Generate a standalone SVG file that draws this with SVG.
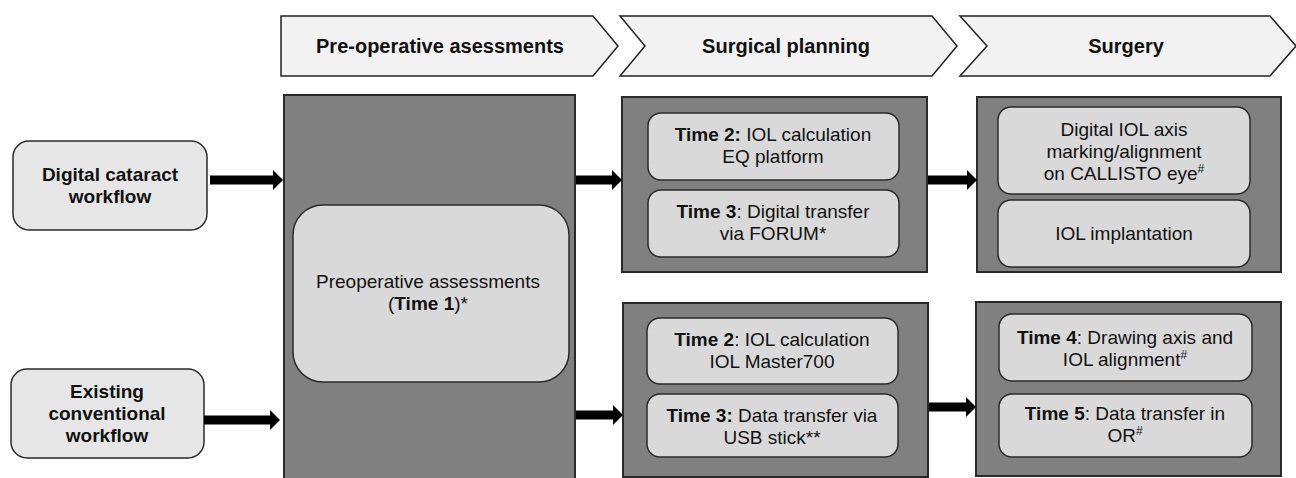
<svg xmlns="http://www.w3.org/2000/svg" width="1296" height="478" viewBox="0 0 1296 478">
<defs>
<style>
text{font-family:"Liberation Sans",Arial,sans-serif;font-size:19px;fill:#111;text-anchor:middle}
.b{font-weight:bold}
.hd{font-weight:bold;font-size:20px}
.chev{fill:#f2f2f2;stroke:#222;stroke-width:1.5}
.outer{fill:#808080;stroke:#2a2a2a;stroke-width:2}
.inner{fill:#d9d9d9;stroke:#2a2a2a;stroke-width:1.5}
.side{fill:#e6e6e6;stroke:#2a2a2a;stroke-width:1.5}
.arr{stroke:#000;stroke-width:9;fill:none}
.sup{font-size:12px}
</style>
<marker id="ah" markerUnits="userSpaceOnUse" markerWidth="10" markerHeight="20" refX="0" refY="10" orient="auto" overflow="visible">
<path d="M0,0 L10,10 L0,20 Z" fill="#000"/>
</marker>
</defs>
<rect width="1296" height="478" fill="#fff"/>

<g id="header-preop">
<path class="chev" d="M281,16 H593 L618,46 L593,76 H281 Z"/>
<text class="hd" x="440" y="53">Pre-operative asessments</text>
</g>
<g id="header-planning">
<path class="chev" d="M620,16 H932 L957,46 L932,76 H620 L645,46 Z"/>
<text class="hd" x="786" y="53">Surgical planning</text>
</g>
<g id="header-surgery">
<path class="chev" d="M960,16 H1270 L1296,46 L1270,76 H960 L987,46 Z"/>
<text class="hd" x="1126" y="53">Surgery</text>
</g>

<g id="digital-workflow">
<rect class="side" x="13" y="141" width="194" height="89" rx="16"/>
<text class="b" x="110" y="181">Digital cataract</text>
<text class="b" x="110" y="203">workflow</text>
</g>
<g id="conventional-workflow">
<rect class="side" x="11" y="369" width="193" height="89" rx="16"/>
<text class="b" x="107" y="398">Existing</text>
<text class="b" x="107" y="420">conventional</text>
<text class="b" x="107" y="442">workflow</text>
</g>

<g id="preop">
<rect class="outer" x="284" y="95" width="291" height="390"/>
<rect class="inner" x="293" y="205" width="276" height="177" rx="30"/>
<text x="428" y="288">Preoperative assessments</text>
<text x="428" y="310">(<tspan class="b">Time 1</tspan>)*</text>
</g>

<g id="planning-digital">
<rect class="outer" x="622" y="97" width="305" height="175"/>
<rect class="inner" x="648" y="113" width="251" height="67" rx="13"/>
<text x="773" y="141"><tspan class="b">Time 2:</tspan> IOL calculation</text>
<text x="773" y="163">EQ platform</text>
<rect class="inner" x="648" y="190" width="251" height="67" rx="13"/>
<text x="773" y="218"><tspan class="b">Time 3</tspan>: Digital transfer</text>
<text x="773" y="240">via FORUM*</text>
</g>

<g id="planning-conventional">
<rect class="outer" x="623" y="303" width="305" height="174"/>
<rect class="inner" x="647" y="318" width="251" height="66" rx="13"/>
<text x="772" y="346"><tspan class="b">Time 2</tspan>: IOL calculation</text>
<text x="772" y="368">IOL Master700</text>
<rect class="inner" x="647" y="394" width="251" height="63" rx="13"/>
<text x="772" y="422"><tspan class="b">Time 3:</tspan> Data transfer via</text>
<text x="772" y="444">USB stick**</text>
</g>

<g id="surgery-digital">
<rect class="outer" x="977" y="97" width="304" height="175"/>
<rect class="inner" x="998" y="107" width="252" height="87" rx="13"/>
<text x="1124" y="136">Digital IOL axis</text>
<text x="1124" y="158">marking/alignment</text>
<text x="1124" y="180">on CALLISTO eye<tspan class="sup" dy="-7">#</tspan></text>
<rect class="inner" x="998" y="200" width="252" height="67" rx="13"/>
<text x="1124" y="240">IOL implantation</text>
</g>

<g id="surgery-conventional">
<rect class="outer" x="976" y="302" width="305" height="174"/>
<rect class="inner" x="999" y="314" width="253" height="67" rx="13"/>
<text x="1125" y="344"><tspan class="b">Time 4</tspan>: Drawing axis and</text>
<text x="1125" y="366">IOL alignment<tspan class="sup" dy="-7">#</tspan></text>
<rect class="inner" x="999" y="394" width="253" height="63" rx="13"/>
<text x="1125" y="420"><tspan class="b">Time 5</tspan>: Data transfer in</text>
<text x="1125" y="442">OR<tspan class="sup" dy="-7">#</tspan></text>
</g>

<g id="connectors">
<line class="arr" x1="210" y1="180" x2="273" y2="180" marker-end="url(#ah)"/>
<line class="arr" x1="204" y1="420" x2="270" y2="420" marker-end="url(#ah)"/>
<line class="arr" x1="576" y1="180" x2="612" y2="180" marker-end="url(#ah)"/>
<line class="arr" x1="576" y1="415" x2="613" y2="415" marker-end="url(#ah)"/>
<line class="arr" x1="928" y1="180" x2="967" y2="180" marker-end="url(#ah)"/>
<line class="arr" x1="929" y1="407" x2="966" y2="407" marker-end="url(#ah)"/>
</g>
</svg>
